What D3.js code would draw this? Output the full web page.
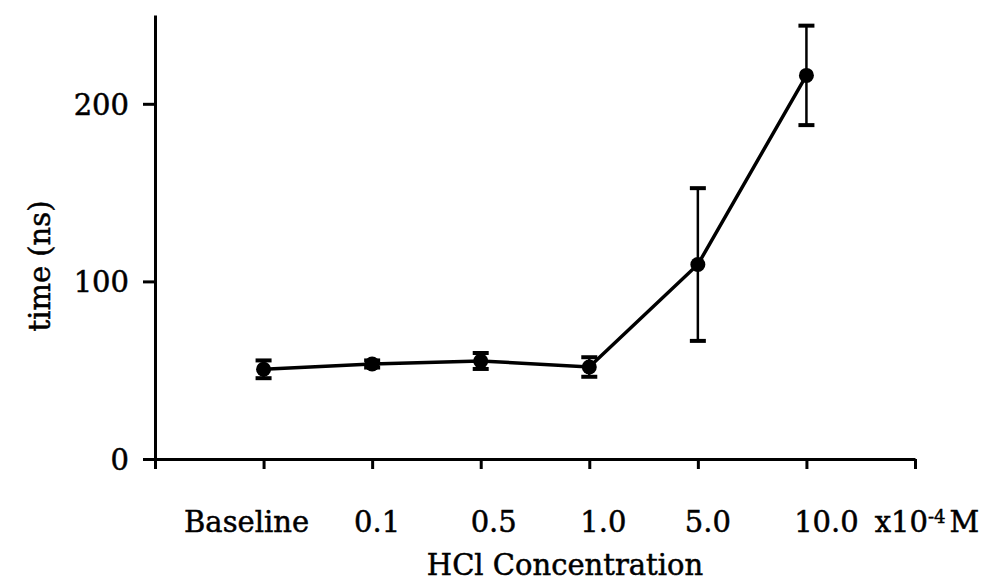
<!DOCTYPE html>
<html>
<head>
<meta charset="utf-8">
<script src="https://cdn.jsdelivr.net/npm/d3@7"></script>
<style>
	html, body { margin: 0; padding: 0; background: #fff; }
	svg text { font-family: "DejaVu Serif", serif; fill: #000; stroke: #000; stroke-width: 0.5px; }
</style>
</head>
<body>
<div id="chart"></div>
<script>
// 数据
let categories = ['Baseline', '0.1', '0.5', '1.0', '5.0', '10.0'];
let timeMean = [50.5, 53.5, 55.2, 51.8, 109.5, 216];
let timeErr = [5, 2, 4.5, 5.5, 43, 28];
let yTicks = [0, 100, 200];

let W = 985, H = 582;
let svg = d3.select('#chart').append('svg').attr('width', W).attr('height', H);

// 第 0 个位置是原点，第 7 个是单位 (x10-4 M)
let x = d3.scaleLinear().domain([0, 7]).range([155, 915]);
let y = d3.scaleLinear().domain([0, 250]).range([459, 15]);

let fs = 29;
// 标签相对刻度的偏移（原图的文字并没有对准刻度）
let labelShift = [-17, 5, 13, 14, 10, 20];

// y 轴
let gy = svg.append('g').attr('transform', 'translate(155,0)')
	.call(d3.axisLeft(y).tickValues(yTicks).tickSize(12).tickSizeOuter(0).tickFormat(d3.format('d')));
gy.select('.domain').attr('stroke-width', 3).attr('stroke', '#000');
gy.selectAll('.tick line').attr('stroke-width', 3).attr('stroke', '#000');
gy.selectAll('.tick text').attr('font-size', fs).attr('x', -26).attr('dy', '0.36em')
	.style('font-family', '"DejaVu Serif", serif');

// x 轴
let gx = svg.append('g').attr('transform', 'translate(0,459)')
	.call(d3.axisBottom(x).tickValues(d3.range(0, 8)).tickSize(10).tickSizeOuter(0).tickFormat(''));
gx.select('.domain').attr('stroke-width', 3).attr('stroke', '#000');
gx.selectAll('.tick line').attr('stroke-width', 3).attr('stroke', '#000');

// x 标签
let xl = svg.append('g');
categories.forEach(function (c, i) {
	xl.append('text').attr('x', x(i + 1) + labelShift[i]).attr('y', 532).attr('text-anchor', 'middle')
		.attr('font-size', fs).text(c);
});
let unit = xl.append('text').attr('x', x(7) + 12).attr('y', 532).attr('text-anchor', 'middle').attr('font-size', fs);
unit.append('tspan').text('x10');
unit.append('tspan').attr('dy', -9).attr('font-size', 18).text('-4');
unit.append('tspan').attr('dy', 9).attr('dx', 4).text('M');

svg.append('text').attr('x', 565).attr('y', 575).attr('text-anchor', 'middle')
	.attr('font-size', fs).text('HCl Concentration');

svg.append('text').attr('transform', 'translate(50,266) rotate(-90)').attr('text-anchor', 'middle')
	.attr('font-size', fs).text('time (ns)');

// 数据点
let pts = categories.map(function (c, i) {
	return { i: i + 1, v: timeMean[i], e: timeErr[i] };
});

let line = d3.line().x(function (d) { return x(d.i); }).y(function (d) { return y(d.v); });
svg.append('path').datum(pts).attr('d', line).attr('fill', 'none')
	.attr('stroke', '#000').attr('stroke-width', 3.5);

let eg = svg.append('g').selectAll('g').data(pts).enter().append('g');
eg.append('line').attr('x1', function (d) { return x(d.i); }).attr('x2', function (d) { return x(d.i); })
	.attr('y1', function (d) { return y(d.v + d.e); }).attr('y2', function (d) { return y(d.v - d.e); })
	.attr('stroke', '#000').attr('stroke-width', 2.5);
[1, -1].forEach(function (s) {
	eg.append('line').attr('x1', function (d) { return x(d.i) - 8; }).attr('x2', function (d) { return x(d.i) + 8; })
		.attr('y1', function (d) { return y(d.v + s * d.e); }).attr('y2', function (d) { return y(d.v + s * d.e); })
		.attr('stroke', '#000').attr('stroke-width', 4);
});
eg.append('circle').attr('cx', function (d) { return x(d.i); }).attr('cy', function (d) { return y(d.v); })
	.attr('r', 7.5).attr('fill', '#000');
</script>
</body>
</html>
